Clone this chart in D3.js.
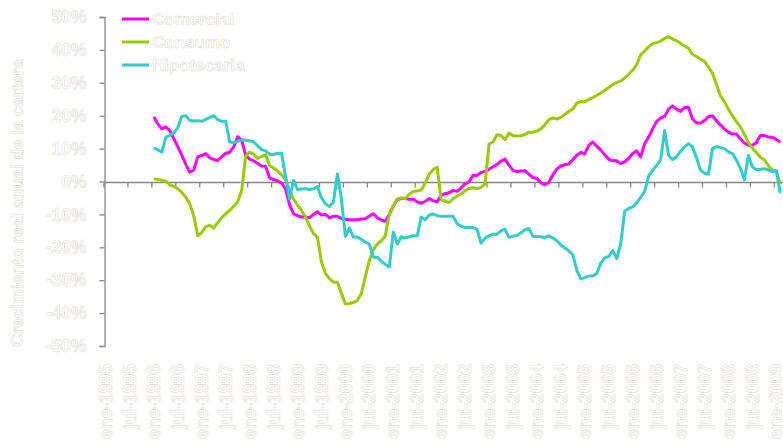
<!DOCTYPE html>
<html>
<head>
<meta charset="utf-8">
<script src="https://cdn.jsdelivr.net/npm/d3@7"></script>
<style>
html,body{margin:0;padding:0;background:#fff;}
svg{display:block;}
.t{font-family:"Liberation Sans",Arial,sans-serif;font-weight:bold;fill:#fff;stroke:#e2ddd5;stroke-width:0.6px;}
</style>
</head>
<body>
<svg id="c" width="783" height="448"></svg>
<script>
// ---- data ----
const monthNames = ["ene","feb","mar","abr","may","jun","jul","ago","sep","oct","nov","dic"];
const years = [1995,1996,1997,1998,1999,2000,2001,2002,2003,2004,2005,2006,2007,2008,2009];
const tickLabels = ["ene-1995","jul-1995","ene-1996","jul-1996","ene-1997","jul-1997","ene-1998","jul-1998",
  "ene-1999","jul-1999","ene-2000","jul-2000","ene-2001","jul-2001","ene-2002","jul-2002","ene-2003","jul-2003",
  "ene-2004","jul-2004","ene-2005","jul-2005","ene-2006","jul-2006","ene-2007","jul-2007","ene-2008","jul-2008",
  "ene-2009"];
const yTicks = [50,40,30,20,10,0,-10,-20,-30,-40,-50];
const seriesStart = "ene-1996";
const seriesNames = ["Comercial","Consumo","Hipotecaria"];
const seriesColors = ["#ff00ff","#99cc00","#33cccc"];

const comercial = [19.6,17.5,16.0,16.6,15.5,13.0,10.6,8.0,5.2,2.8,3.5,7.5,
7.9,8.5,7.2,6.7,6.4,7.5,8.6,8.9,10.5,13.6,12.6,8.0,
6.8,6.3,5.5,4.7,4.6,1.1,0.6,0.2,-0.5,-2.2,-7.0,-9.8,
-10.4,-10.8,-10.8,-11.0,-10.0,-9.2,-10.2,-10.0,-11.0,-10.6,-10.6,-11.2,
-11.5,-11.6,-11.6,-11.6,-11.4,-11.3,-10.5,-9.8,-11.0,-11.7,-12.1,-10.0,
-7.5,-5.5,-5.2,-5.2,-5.4,-5.3,-6.2,-6.6,-6.0,-5.2,-5.8,-6.2,
-4.2,-3.7,-3.4,-2.7,-3.0,-2.0,-0.7,-0.1,1.9,1.9,2.7,3.1,
3.7,4.5,5.2,6.2,6.8,5.0,3.4,3.0,3.2,3.3,2.2,1.2,
0.9,-0.4,-1.0,-0.3,2.0,3.8,4.7,5.1,5.3,6.6,8.0,8.8,
8.4,11.0,12.0,10.8,9.6,8.1,6.8,6.3,6.3,5.5,6.0,7.0,
8.5,9.3,7.5,11.5,13.5,16.0,18.2,19.3,19.8,22.0,23.0,22.0,
21.3,22.5,22.5,19.0,17.8,17.8,18.5,19.7,20.0,18.5,17.2,16.0,
15.0,14.4,14.4,13.0,11.7,11.0,11.0,11.8,14.0,14.0,13.5,13.4,
12.8,12.0];

const consumo = [0.8,0.6,0.4,0.1,-1.0,-1.5,-2.2,-3.3,-4.8,-6.8,-10.5,-16.5,
-15.5,-13.8,-13.3,-14.2,-12.5,-11.0,-9.8,-8.8,-7.5,-6.2,-2.8,7.8,
8.9,8.3,7.0,7.6,8.1,4.9,4.1,3.2,2.0,0.5,-2.5,-5.3,
-7.2,-8.8,-10.8,-13.5,-15.8,-16.9,-24.5,-27.9,-29.5,-30.6,-30.6,-34.0,
-37.2,-37.1,-36.8,-36.2,-34.0,-29.0,-24.0,-20.8,-19.0,-18.0,-16.5,-9.8,
-7.5,-5.3,-5.0,-5.2,-3.9,-3.0,-2.9,-2.6,-0.5,2.2,3.6,4.3,
-5.5,-6.0,-6.4,-5.2,-4.5,-3.8,-2.8,-2.1,-1.9,-2.2,-1.8,-0.8,
11.4,12.0,14.2,14.0,12.7,14.7,14.0,13.8,13.9,14.3,15.0,15.0,
15.3,16.0,17.2,18.8,19.3,19.0,19.5,20.4,21.3,22.0,23.8,24.3,
24.2,25.0,25.5,26.2,26.9,27.7,28.6,29.4,30.1,30.5,31.5,32.6,
33.8,35.5,38.5,39.6,41.0,41.9,42.2,42.7,43.5,44.0,43.3,42.8,
42.0,41.2,40.5,38.6,38.0,37.2,36.5,34.8,32.8,29.5,26.0,24.2,
22.0,20.0,18.2,16.6,14.3,11.8,10.2,8.8,7.4,6.6,4.8,3.5,
3.2,-0.8];

const hipotecaria = [10.2,9.6,8.9,13.5,14.0,14.8,16.4,19.8,20.0,18.6,18.4,18.5,
18.3,18.9,19.4,20.0,18.8,18.3,18.3,12.0,11.8,12.2,12.6,12.6,
12.3,12.1,10.8,9.7,9.3,8.3,8.2,8.6,8.6,1.5,-5.3,0.3,
-2.4,-2.3,-2.2,-2.4,-2.2,-1.5,-5.0,-6.8,-7.6,-6.3,2.3,-5.3,
-16.7,-14.1,-16.9,-16.9,-17.6,-18.4,-19.1,-23.0,-23.0,-24.2,-25.2,-26.0,
-15.4,-19.0,-16.8,-17.2,-16.8,-16.5,-16.5,-10.8,-11.6,-10.2,-9.9,-10.4,
-10.6,-10.6,-10.6,-10.6,-12.8,-13.6,-14.0,-14.0,-14.0,-14.5,-18.7,-17.2,
-16.5,-16.0,-16.0,-15.0,-14.5,-17.0,-16.6,-16.4,-15.6,-14.6,-14.3,-16.7,
-16.7,-16.8,-17.0,-16.5,-17.2,-18.0,-19.3,-20.2,-21.1,-22.2,-27.0,-29.6,
-29.2,-28.7,-28.7,-28.0,-24.8,-23.2,-22.8,-21.0,-23.4,-19.0,-9.0,-8.2,
-7.7,-6.5,-4.8,-3.1,1.7,3.3,4.9,6.5,15.5,8.0,6.6,7.5,
9.2,10.5,11.5,10.5,7.2,3.5,2.5,2.2,10.0,10.6,10.3,10.0,
9.0,8.5,6.5,4.0,0.5,8.0,4.5,3.6,3.7,3.9,3.5,3.0,
3.2,-3.5];

// ---- categories (all months on the axis) ----
const months = [];
years.forEach(yr => monthNames.forEach(m => months.push(m + "-" + yr)));

// ---- chart ----
const svg = d3.select("#c");
const x = d3.scaleBand().domain(months).range([104, 104 + months.length * 3.99]).padding(0);
const y = d3.scaleLinear().domain([-50, 50]).range([346, 17]);
const bw = x.bandwidth();
const startIdx = months.indexOf(seriesStart);

// y axis
const yAxis = d3.axisLeft(y).tickValues(yTicks).tickSize(5).tickPadding(13)
  .tickFormat(d => d + "%");
const gy = svg.append("g").attr("transform", "translate(104.5,0)").call(yAxis);
gy.select(".domain").attr("stroke", "#868686").attr("stroke-width", 1.3);
gy.selectAll(".tick line").attr("stroke", "#868686").attr("stroke-width", 1.3);
gy.selectAll(".tick text").attr("class", "t").style("font-size", "17.5px");

// x axis line at zero with ticks every 6 months
const y0 = Math.round(y(0)) + 0.5;
svg.append("line").attr("x1", 104).attr("x2", 783).attr("y1", y0).attr("y2", y0)
  .attr("stroke", "#868686").attr("stroke-width", 1.3);
const tickMonths = months.filter((m, i) => i % 6 === 0);
svg.append("g").selectAll("line").data(tickMonths).join("line")
  .attr("x1", d => x(d)).attr("x2", d => x(d))
  .attr("y1", y0).attr("y2", y0 + 5)
  .attr("stroke", "#868686").attr("stroke-width", 1.3);

// x labels
svg.append("g").selectAll("text").data(tickLabels).join("text")
  .attr("class", "t")
  .attr("transform", d => `translate(${x(d) + bw / 2},364) rotate(-90)`)
  .attr("text-anchor", "end").attr("dy", "0.35em")
  .style("font-size", "17.5px")
  .text(d => d);

// y title
svg.append("text").attr("class", "t")
  .attr("transform", "translate(23,203) rotate(-90)")
  .attr("text-anchor", "middle").style("font-size", "17px")
  .text("Crecimiento real anual de la cartera");

// lines
const allSeries = [comercial, consumo, hipotecaria];
const line = d3.line().x(d => x(months[d.i]) + bw / 2).y(d => y(d.v));
allSeries.forEach((vals, k) => {
  const pts = vals.map((v, j) => ({ i: startIdx + j, v }));
  svg.append("path").datum(pts).attr("d", line)
    .attr("fill", "none").attr("stroke", seriesColors[k])
    .attr("stroke-width", 3).attr("stroke-linejoin", "round");
});

// legend
const lg = svg.append("g");
seriesNames.forEach((n, k) => {
  const ly = 19 + k * 23;
  lg.append("line").attr("x1", 122).attr("x2", 149).attr("y1", ly).attr("y2", ly)
    .attr("stroke", seriesColors[k]).attr("stroke-width", 3);
  lg.append("text").attr("class", "t").attr("x", 152).attr("y", ly).attr("dy", "0.36em")
    .style("font-size", "17px").text(n);
});
</script>
</body>
</html>
